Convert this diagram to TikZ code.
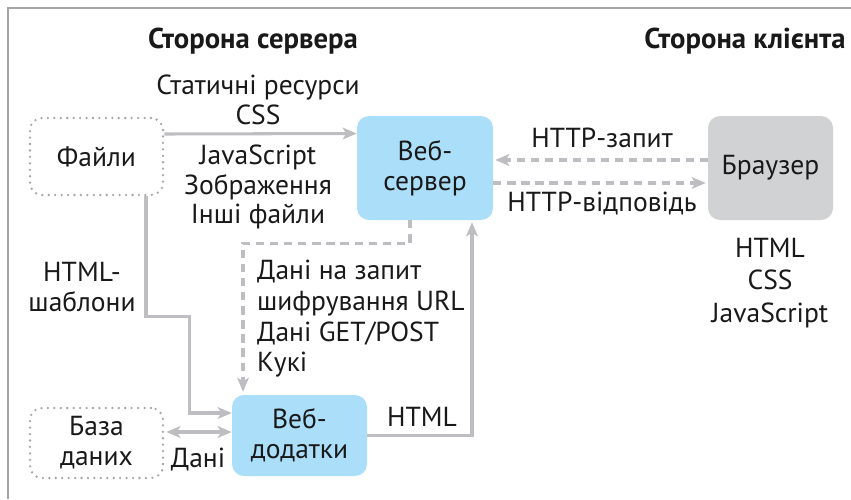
\documentclass[tikz,border=0pt]{standalone}
\usepackage{fontspec}
\setmainfont{PT Sans}
\usetikzlibrary{arrows.meta,calc}

\definecolor{srvblue}{RGB}{171,223,249}
\definecolor{brgray}{RGB}{209,210,212}
\definecolor{lngray}{RGB}{190,190,194}
\definecolor{frgray}{RGB}{165,165,165}

\tikzset{
  txt/.style={font=\fontsize{23.5}{25.5}\selectfont, align=center, text=black!90},
  box/.style={txt, rounded corners=0.36cm, inner sep=0pt},
  dotbox/.style={box, draw=frgray, line width=2.2pt, dash pattern=on 0pt off 5.5pt, line cap=round},
  arr/.style={draw=lngray, line width=2.6pt, -{Stealth[length=12pt,width=10pt,inset=3pt]}},
  darr/.style={arr, dash pattern=on 7pt off 5pt},
}

\begin{document}
\begin{tikzpicture}[x=0.03cm, y=-0.03cm]
    \useasboundingbox (0,0) rectangle (851,499);
    % frame
    \draw[frgray, line width=1.2pt] (8,499) -- (8,8) -- (851,8);

    \node[txt, font=\fontsize{24.5}{26}\selectfont\bfseries] (srvhead) at (253,41) {Сторона сервера};
    \node[txt, font=\fontsize{24.5}{26}\selectfont\bfseries] (clihead) at (745,41) {Сторона клієнта};

    % boxes
    \node[dotbox, minimum width=133*0.03cm, minimum height=77*0.03cm] (files) at (96.5,156.5) {Файли};
    \node[box, fill=srvblue, minimum width=136*0.03cm, minimum height=104*0.03cm] (websrv) at (425,168) {Веб-\\сервер};
    \node[box, fill=brgray, minimum width=125*0.03cm, minimum height=104*0.03cm] (browser) at (770.5,168) {Браузер};
    \node[box, fill=srvblue, minimum width=135*0.03cm, minimum height=81*0.03cm] (webapp) at (299.5,435.5) {Веб-\\додатки};
    \node[dotbox, minimum width=133*0.03cm, minimum height=70*0.03cm] (db) at (96.5,443) {База\\даних};

    % labels
    \node[txt] (statlbl) at (258,100) {Статичні ресурси\\CSS};
    \node[txt] (filelbl) at (258,187) {JavaScript\\Зображення\\Інші файли};
    \node[txt] (reqlbl) at (602,138) {HTTP-запит};
    \node[txt] (resplbl) at (602,203) {HTTP-відповідь};
    \node[txt, font=\fontsize{23.5}{26.2}\selectfont, align=left, anchor=west] (datalbl) at (253,319) {Дані на запит\\шифрування URL\\Дані GET/POST\\Кукі};
    \node[txt] (tpllbl) at (82,287) {HTML-\\шаблони};
    \node[txt] (htmllbl) at (422,417) {HTML};
    \node[txt] (dblbl) at (198,460) {Дані};
    \node[txt, font=\fontsize{23.5}{27.6}\selectfont] (clilbl) at (770,283) {HTML\\CSS\\JavaScript};

    % connectors
    \draw[arr] ($(files.east)+(0,-22.5)$) -- ($(websrv.west)+(0,-34.5)$);
    \draw[darr] ($(browser.west)+(0,-8)$) -- ($(websrv.east)+(2,-8)$);
    \draw[darr] ($(websrv.east)+(0,15)$) -- ($(browser.west)+(-2,15)$);
    \draw[darr] ($(websrv.south)+(-15,0)$) -- ++(0,23) -| ($(webapp.north)+(-56.5,-3)$);
    \draw[arr] ($(files.south)+(49.5,0)$) -- ++(0,120) -| ($(webapp.west)+(-42,-22.5)$) -- ($(webapp.west)+(0,-22.5)$);
    \draw[arr] (webapp.east) -| ($(websrv.south)+(47,2)$);
    \draw[arr, {Stealth[length=12pt,width=10pt,inset=3pt]}-{Stealth[length=12pt,width=10pt,inset=3pt]}] ($(db.east)+(2,-11)$) -- ($(webapp.west)+(0,-3.5)$);
\end{tikzpicture}
\end{document}
